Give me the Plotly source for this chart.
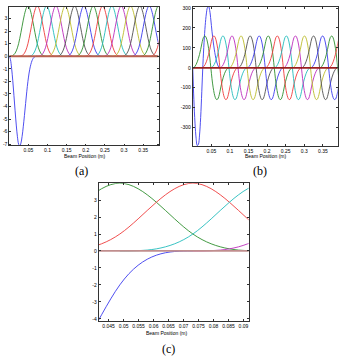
import numpy as np
import plotly.graph_objects as go

# ---------------- data ----------------
knot_step = 0.024375          # spacing of the spline knots (m)

# peak positions of the regular basis functions (m)
bump_peaks = [0.04875, 0.073125, 0.0975, 0.121875, 0.14625, 0.170625, 0.195,
              0.219375, 0.24375, 0.268125, 0.2925, 0.316875, 0.34125,
              0.365625, 0.39, 0.414375]
bump_colors = ["#2f8f2f", "#ee3b3b", "#22bcbc", "#bc2cbc", "#bcbc2c", "#505050",
               "#3b3bee", "#2f8f2f", "#ee3b3b", "#22bcbc", "#bc2cbc", "#bcbc2c",
               "#505050", "#3b3bee", "#2f8f2f", "#ee3b3b"]

# shape of one regular basis function, sampled in knot units around its peak
bump_t = [-2.0, -1.875, -1.75, -1.625, -1.5, -1.375, -1.25, -1.125, -1.0,
          -0.875, -0.75, -0.625, -0.5, -0.375, -0.25, -0.125, 0.0,
          0.125, 0.25, 0.375, 0.5, 0.625, 0.75, 0.875, 1.0,
          1.125, 1.25, 1.375, 1.5, 1.625, 1.75, 1.875, 2.0]
bump_val = [0.0, 0.002, 0.0156, 0.0527, 0.125, 0.2441, 0.4219, 0.6699, 1.0,
            1.416, 1.891, 2.389, 2.875, 3.314, 3.672, 3.912, 4.0,
            3.912, 3.672, 3.314, 2.875, 2.389, 1.891, 1.416, 1.0,
            0.6699, 0.4219, 0.2441, 0.125, 0.0527, 0.0156, 0.002, 0.0]
bump_slope = [0.0, 1.9, 7.5, 16.9, 30.0, 46.9, 67.5, 91.9, 120.0,
              144.4, 157.5, 159.4, 150.0, 129.4, 97.5, 54.4, 0.0,
              -54.4, -97.5, -129.4, -150.0, -159.4, -157.5, -144.4, -120.0,
              -91.9, -67.5, -46.9, -30.0, -16.9, -7.5, -1.9, 0.0]

# first (clamped-end) basis function, sampled in knot units from x = 0
first_u = [0.0, 0.125, 0.25, 0.375, 0.5, 0.625, 0.75, 0.875, 1.0,
           1.125, 1.25, 1.375, 1.5, 1.625, 1.75, 1.875, 2.0,
           2.125, 2.25, 2.375, 2.5, 2.625, 2.75, 2.875, 3.0]
first_val = [0.0, -0.260, -0.953, -1.951, -3.125, -4.346, -5.484, -6.412, -7.000,
             -7.154, -6.922, -6.385, -5.625, -4.725, -3.766, -2.830, -2.000,
             -1.340, -0.844, -0.488, -0.250, -0.105, -0.031, -0.004, 0.0]
first_slope = [0.0, -159.5, -277.7, -354.7, -390.3, -384.7, -337.8, -249.6, -120.1,
               16.9, 127.6, 212.1, 270.2, 302.1, 307.8, 287.1, 240.2,
               183.9, 135.1, 93.8, 60.1, 33.8, 15.0, 3.8, 0.0]
first_color = "#3b3bee"

baseline_x = [0.0, 0.39]
baseline_y = [0.0, 0.0]
baseline_colors = ["#b8604f", "#9a2020", "#c08e8e"]

x_ticks_ab = [0.05, 0.1, 0.15, 0.2, 0.25, 0.3, 0.35]
x_labels_ab = ["0.05", "0.1", "0.15", "0.2", "0.25", "0.3", "0.35"]
y_ticks_a = [-7, -6, -5, -4, -3, -2, -1, 0, 1, 2, 3]
y_labels_a = ["-7", "-6", "-5", "-4", "-3", "-2", "-1", "0", "1", "2", "3"]
y_ticks_b = [-300, -200, -100, 0, 100, 200, 300]
y_labels_b = ["-300", "-200", "-100", "0", "100", "200", "300"]
x_ticks_c = [0.045, 0.05, 0.055, 0.06, 0.065, 0.07, 0.075, 0.08, 0.085, 0.09]
x_labels_c = ["0.045", "0.05", "0.055", "0.06", "0.065", "0.07", "0.075",
              "0.08", "0.085", "0.09"]
y_ticks_c = [-4, -3, -2, -1, 0, 1, 2, 3]
y_labels_c = ["-4", "-3", "-2", "-1", "0", "1", "2", "3"]

x_title = "Beam Position (m)"
captions = ["(a)", "(b)", "(c)"]

# ---------------- figure ----------------
fig = go.Figure()

panels = [
    ("x", "y", first_val, bump_val, baseline_colors[0]),
    ("x2", "y2", first_slope, bump_slope, baseline_colors[1]),
    ("x3", "y3", first_val, bump_val, baseline_colors[2]),
]

for xa, ya, fvals, bvals, bcol in panels:
    fig.add_trace(go.Scatter(
        x=np.array(first_u) * knot_step, y=fvals, mode="lines",
        line=dict(color=first_color, width=0.9, shape="spline"),
        xaxis=xa, yaxis=ya, hoverinfo="skip"))
    for c, col in zip(bump_peaks, bump_colors):
        fig.add_trace(go.Scatter(
            x=c + np.array(bump_t) * knot_step, y=bvals, mode="lines",
            line=dict(color=col, width=0.9, shape="spline"),
            xaxis=xa, yaxis=ya, hoverinfo="skip"))
    fig.add_trace(go.Scatter(
        x=baseline_x, y=baseline_y, mode="lines",
        line=dict(color=bcol, width=1.8),
        xaxis=xa, yaxis=ya, hoverinfo="skip"))

W, H = 339, 357

def dom_x(a, b):
    return [a / W, b / W]

def dom_y(top, bottom):
    return [1 - bottom / H, 1 - top / H]

common = dict(showline=True, linecolor="#333333", linewidth=0.8, mirror="ticks",
              ticks="inside", ticklen=2, tickwidth=0.6, tickcolor="#333333",
              showgrid=False, zeroline=False, tickangle=0,
              tickfont=dict(family="Liberation Sans", size=5, color="#000000"))

fig.update_layout(
    width=W, height=H, margin=dict(l=0, r=0, t=0, b=0),
    paper_bgcolor="white", plot_bgcolor="white", showlegend=False,
    xaxis=dict(domain=dom_x(9.3, 159), range=[0, 0.39], anchor="y",
               tickvals=x_ticks_ab, ticktext=x_labels_ab, **common),
    yaxis=dict(domain=dom_y(4.7, 144.7), range=[-7.11, 3.95], anchor="x",
               tickvals=y_ticks_a, ticktext=y_labels_a, **common),
    xaxis2=dict(domain=dom_x(193.3, 338.7), range=[0, 0.39], anchor="y2",
                tickvals=x_ticks_ab, ticktext=x_labels_ab, **common),
    yaxis2=dict(domain=dom_y(4.7, 145.3), range=[-393, 307], anchor="x2",
                tickvals=y_ticks_b, ticktext=y_labels_b, **common),
    xaxis3=dict(domain=dom_x(99, 249.3), range=[0.0417, 0.0917], anchor="y3",
                tickvals=x_ticks_c, ticktext=x_labels_c, **common),
    yaxis3=dict(domain=dom_y(182.7, 322), range=[-4.15, 4.0], anchor="x3",
                tickvals=y_ticks_c, ticktext=y_labels_c, **common),
)

ann = []
for cx, cy in [(84.7, 155.5), (266.7, 155.5), (166.7, 334)]:
    ann.append(dict(x=cx / W, y=1 - cy / H, xref="paper", yref="paper",
                    text=x_title, showarrow=False, xanchor="center", yanchor="middle",
                    font=dict(family="Liberation Sans", size=5, color="#000000")))
for txt, (cx, cy) in zip(captions, [(82, 170.5), (261, 170.5), (169, 349.5)]):
    ann.append(dict(x=cx / W, y=1 - cy / H, xref="paper", yref="paper",
                    text=txt, showarrow=False, xanchor="center", yanchor="middle",
                    font=dict(family="Liberation Serif", size=12, color="#000000")))
fig.update_layout(annotations=ann)

fig.write_html("out.html")
